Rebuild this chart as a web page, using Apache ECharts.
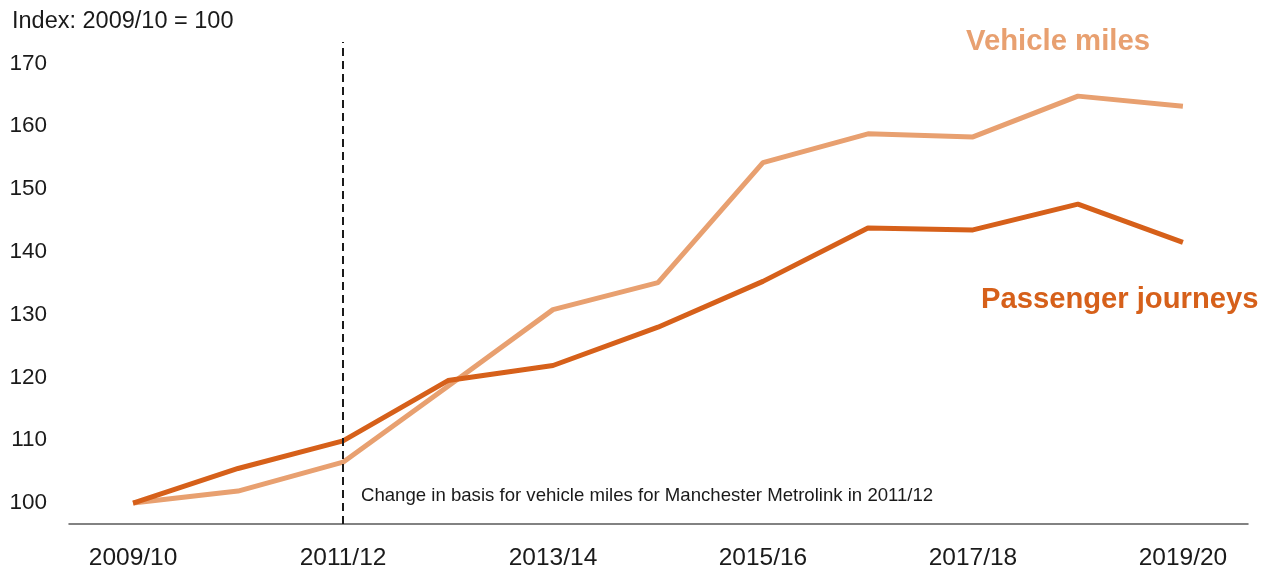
<!DOCTYPE html>
<html>
<head>
<meta charset="utf-8">
<script src="https://cdn.jsdelivr.net/npm/echarts@6/dist/echarts.min.js"></script>
<style>
html,body{margin:0;padding:0;background:#fff;}
#chart{width:1269px;height:571px;}
</style>
</head>
<body>
<div id="chart"></div>
<script>
const categories = ['2009/10','2010/11','2011/12','2012/13','2013/14','2014/15','2015/16','2016/17','2017/18','2018/19','2019/20'];
const vehicleMiles = [100, 101.9, 106.5, 118.6, 130.8, 135.1, 154.2, 158.8, 158.3, 164.8, 163.2];
const passengerJourneys = [100, 105.5, 109.9, 119.5, 121.9, 128.0, 135.3, 143.8, 143.5, 147.6, 141.5];
const yTicks = [100, 110, 120, 130, 140, 150, 160, 170];
const xTickIdx = [0, 2, 4, 6, 8, 10];
const basisChangeIdx = 2;

const lightColor = '#E8A070';
const darkColor = '#D6601A';
const font = '"Liberation Sans", Arial, sans-serif';

const chart = echarts.init(document.getElementById('chart'));
chart.setOption({
  animation: false,
  textStyle: { fontFamily: font },
  title: {
    text: 'Index: 2009/10 = 100',
    left: 7, top: 5,
    textStyle: { fontFamily: font, fontSize: 23.5, fontWeight: 'normal', color: '#1a1a1a' }
  },
  grid: { left: 69, right: 21, top: 42, bottom: 46 },
  xAxis: {
    type: 'value',
    min: -0.61, max: 10.62,
    splitLine: { show: false },
    axisTick: { show: false },
    axisLine: { show: true, lineStyle: { color: '#595959', width: 1.5 } },
    axisLabel: {
      customValues: xTickIdx,
      formatter: v => categories[Math.round(v)] || '',
      fontSize: 24.5, color: '#1a1a1a', margin: 22, fontFamily: font
    }
  },
  yAxis: {
    type: 'value',
    min: 96.66, max: 173.42,
    splitLine: { show: false },
    axisTick: { show: false },
    axisLine: { show: false },
    axisLabel: {
      customValues: yTicks,
      fontSize: 22.5, color: '#1a1a1a', margin: 22, fontFamily: font
    }
  },
  series: [
    {
      name: 'Vehicle miles',
      type: 'line',
      data: vehicleMiles.map((v, i) => [i, v]),
      symbol: 'none',
      lineStyle: { color: lightColor, width: 5, cap: 'butt' },
      z: 2
    },
    {
      name: 'Passenger journeys',
      type: 'line',
      data: passengerJourneys.map((v, i) => [i, v]),
      symbol: 'none',
      lineStyle: { color: darkColor, width: 5, cap: 'butt' },
      z: 3,
      markLine: {
        silent: true,
        symbol: ['none', 'none'],
        label: { show: false },
        lineStyle: { color: '#1a1a1a', type: [8, 5], width: 2 },
        data: [{ xAxis: basisChangeIdx }]
      }
    }
  ],
  graphic: [
    {
      type: 'text', left: 966, top: 27,
      style: { text: 'Vehicle miles', fill: lightColor, font: 'bold 29.3px ' + font }
    },
    {
      type: 'text', left: 981, top: 285,
      style: { text: 'Passenger journeys', fill: darkColor, font: 'bold 29.2px ' + font }
    },
    {
      type: 'text', left: 361, top: 486,
      style: { text: 'Change in basis for vehicle miles for Manchester Metrolink in 2011/12', fill: '#1a1a1a', font: '18.6px ' + font }
    }
  ]
});
</script>
</body>
</html>
